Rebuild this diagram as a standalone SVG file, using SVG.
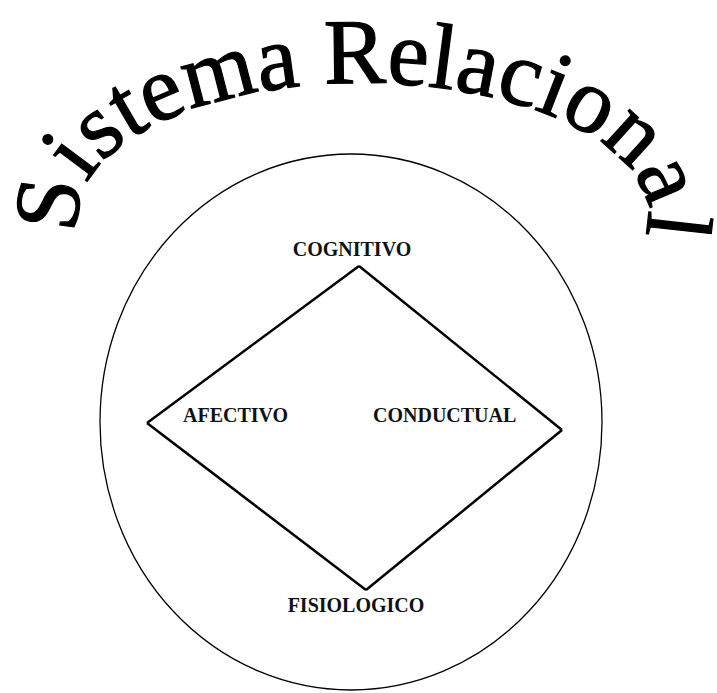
<svg xmlns="http://www.w3.org/2000/svg" width="717" height="693" viewBox="0 0 717 693">
  <style>
    .lbl { font-family: "Liberation Serif", "Times New Roman", serif; font-weight: bold; font-size: 20px; fill: #111; }
    .title { font-family: "Liberation Serif", "Times New Roman", serif; font-size: 93px; fill: #000; stroke: #000; stroke-width: 1.2; }
    .edge { stroke: #000; stroke-width: 2.5; fill: none; stroke-linejoin: miter; }
  </style>
  <defs>
    <path id="arch" d="M 82.33 239.1 A 285 133 0 1 1 643.67 239.1"/>
  </defs>
  <rect width="717" height="693" fill="#fff"/>
  <g id="title">
    <text class="title"><textPath href="#arch" startOffset="6">Sistema Relacional</textPath></text>
  </g>
  <g id="sistema">
    <ellipse cx="351" cy="422" rx="251" ry="268" fill="none" stroke="#000" stroke-width="1.3"/>
  </g>
  <g id="connectors">
    <line class="edge" x1="359" y1="266" x2="562" y2="430"/>
    <line class="edge" x1="562" y1="430" x2="366" y2="590"/>
    <line class="edge" x1="366" y1="590" x2="147" y2="423"/>
    <line class="edge" x1="147" y1="423" x2="359" y2="266"/>
  </g>
  <g id="cognitivo"><text class="lbl" x="352" y="256" text-anchor="middle">COGNITIVO</text></g>
  <g id="afectivo"><text class="lbl" x="183" y="422">AFECTIVO</text></g>
  <g id="conductual"><text class="lbl" x="373" y="422">CONDUCTUAL</text></g>
  <g id="fisiologico"><text class="lbl" x="356" y="612" text-anchor="middle">FISIOLOGICO</text></g>
</svg>
